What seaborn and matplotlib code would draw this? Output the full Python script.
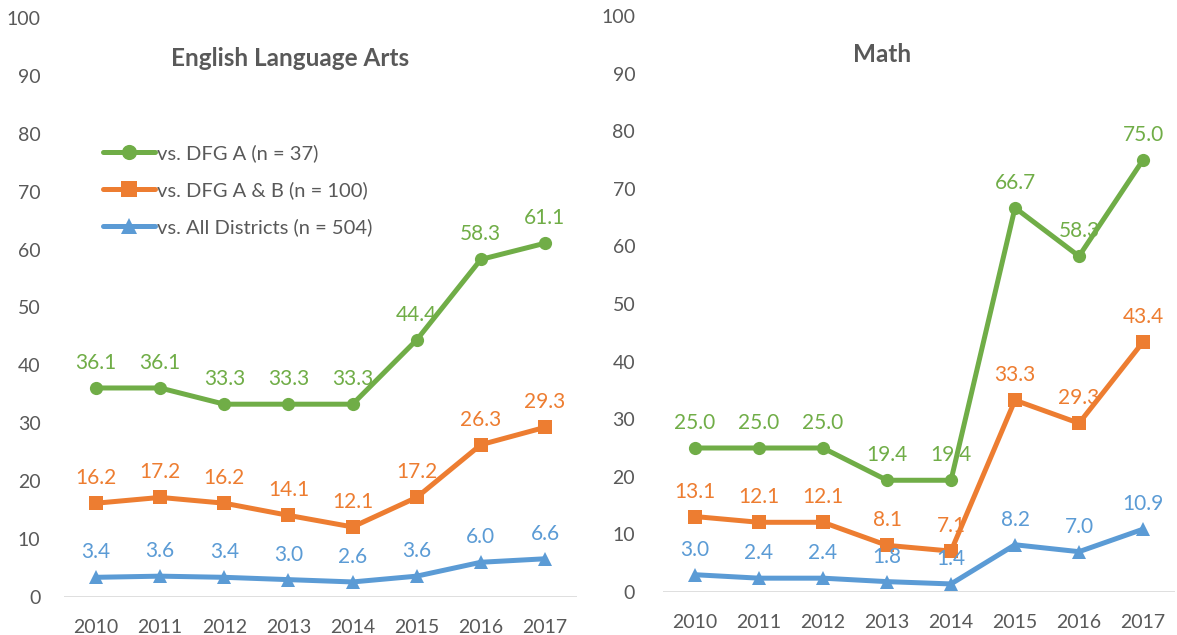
import pandas as pd
import matplotlib.pyplot as plt
import seaborn as sns

years = ["2010", "2011", "2012", "2013", "2014", "2015", "2016", "2017"]
series_names = ["vs. DFG A (n = 37)", "vs. DFG A & B (n = 100)", "vs. All Districts (n = 504)"]

ela_dfg_a = [36.1, 36.1, 33.3, 33.3, 33.3, 44.4, 58.3, 61.1]
ela_dfg_ab = [16.2, 17.2, 16.2, 14.1, 12.1, 17.2, 26.3, 29.3]
ela_all = [3.4, 3.6, 3.4, 3.0, 2.6, 3.6, 6.0, 6.6]

math_dfg_a = [25.0, 25.0, 25.0, 19.4, 19.4, 66.7, 58.3, 75.0]
math_dfg_ab = [13.1, 12.1, 12.1, 8.1, 7.1, 33.3, 29.3, 43.4]
math_all = [3.0, 2.4, 2.4, 1.8, 1.4, 8.2, 7.0, 10.9]

colors = ["#70AD47", "#ED7D31", "#5B9BD5"]
markers = ["o", "s", "^"]
text_gray = "#595959"

sns.set_style("white")
plt.rcParams['font.family'] = ['Lato', 'DejaVu Sans']


def build(vals):
    rows = []
    for name, v in zip(series_names, vals):
        for i, y in enumerate(v):
            rows.append({"x": i, "value": y, "series": name})
    return pd.DataFrame(rows)


fig = plt.figure(figsize=(11.77, 6.35), dpi=100)
ax1 = fig.add_axes([64 / 1177, 1 - 597 / 635, 513 / 1177, 579 / 635])
ax2 = fig.add_axes([663 / 1177, 1 - 592 / 635, 512 / 1177, 576 / 635])

# title centres (figure px)
panels = [
    (ax1, "English Language Arts", [ela_dfg_a, ela_dfg_ab, ela_all], (290, 58)),
    (ax2, "Math", [math_dfg_a, math_dfg_ab, math_all], (882, 55)),
]

for ax, title, vals, (tx, ty) in panels:
    df = build(vals)
    ax.axhline(0, color="#D9D9D9", linewidth=1.2, zorder=1)
    sns.lineplot(data=df, x="x", y="value", hue="series", style="series",
                 palette=colors, markers=markers, dashes=False,
                 linewidth=3.6, markersize=9.5, markeredgewidth=0,
                 ax=ax, legend=(ax is ax1), zorder=3)
    for v, c in zip(vals, colors):
        for i, y in enumerate(v):
            ax.annotate(f"{y:.1f}", (i, y), xytext=(0, 18), textcoords="offset points",
                        ha="center", va="center", color=c, fontsize=15, zorder=4)
    ax.set_xlim(-0.5, 7.5)
    ax.set_ylim(0, 100)
    ax.set_yticks(range(0, 101, 10))
    ax.set_xticks(range(len(years)))
    ax.set_xticklabels(years)
    ax.set_xlabel("")
    ax.set_ylabel("")
    ax.tick_params(axis="both", length=0, labelsize=14, labelcolor=text_gray)
    ax.tick_params(axis="x", pad=16)
    ax.tick_params(axis="y", pad=17)
    for s in ax.spines.values():
        s.set_visible(False)
    fig.text(tx / 1177, 1 - ty / 635, title, ha="center", va="center",
             fontsize=17.5, fontweight="bold", color=text_gray)

ax2.tick_params(axis="y", pad=20)

leg = ax1.legend(loc="center left", bbox_to_anchor=(103 / 1177, 1 - 190 / 635),
                 bbox_transform=fig.transFigure, frameon=False, fontsize=14.5,
                 handlelength=2.6, handletextpad=0.1, labelspacing=0.95,
                 borderpad=0, borderaxespad=0, markerscale=1.15)
for t in leg.get_texts():
    t.set_color(text_gray)

fig.savefig("out.png", dpi=100)
